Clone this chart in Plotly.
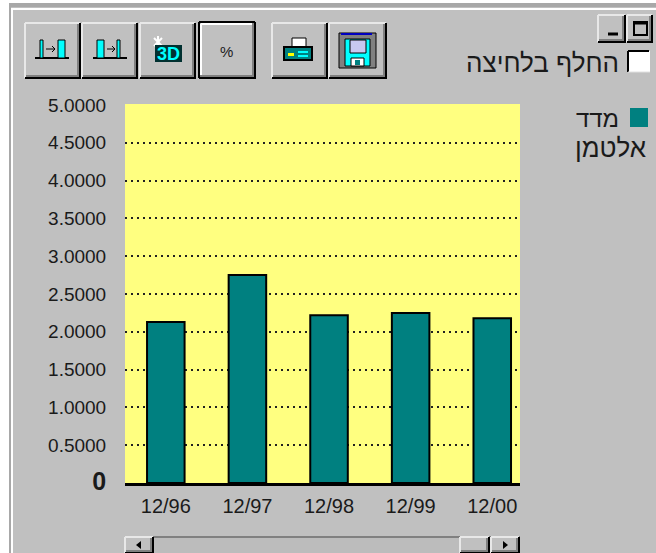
import plotly.graph_objects as go

categories = ["12/96", "12/97", "12/98", "12/99", "12/00"]
values = [2.13, 2.75, 2.22, 2.25, 2.18]
y_ticks = [0, 0.5, 1, 1.5, 2, 2.5, 3, 3.5, 4, 4.5, 5]
y_labels = ["<b style='font-size:25px'>0</b>", "0.5000", "1.0000", "1.5000", "2.0000", "2.5000", "3.0000", "3.5000", "4.0000", "4.5000", "5.0000"]
series_name = "מדד אלטמן"

W, H = 656, 553
GRAY, DARK, TEAL, CYAN = "#c0c0c0", "#808080", "#008080", "#00ffff"
TXT = "#1a1a1a"
FONT = "Liberation Sans"
shapes, notes = [], []


def X(v):
    return v / W


def Y(v):
    return 1 - v / H


def rect(x0, y0, x1, y1, fill, line=None, lw=1):
    shapes.append(dict(type="rect", xref="paper", yref="paper", x0=X(x0), x1=X(x1), y0=Y(y0), y1=Y(y1),
                       fillcolor=fill, line=dict(width=lw if line else 0, color=line or fill)))


def seg(x0, y0, x1, y1, color="black", lw=1):
    shapes.append(dict(type="line", xref="paper", yref="paper", x0=X(x0), x1=X(x1), y0=Y(y0), y1=Y(y1),
                       line=dict(color=color, width=lw)))


def tri(pts, color="black"):
    path = "M " + " L ".join(f"{X(a):.5f},{Y(b):.5f}" for a, b in pts) + " Z"
    shapes.append(dict(type="path", xref="paper", yref="paper", path=path, fillcolor=color, line=dict(width=0)))


def text(x, y, s, size=20, anchor="right", color=TXT, font=FONT):
    notes.append(dict(xref="paper", yref="paper", x=X(x), y=Y(y), text=s, showarrow=False, xanchor=anchor,
                      yanchor="middle", font=dict(family=font, size=size, color=color)))


def button(x0, y0, x1, y1, pressed=False):
    rect(x0, y0, x1, y1, GRAY)
    if pressed:
        seg(x0, y0, x1, y0, "black", 2)
        seg(x0, y0, x0, y1, "black", 2)
        seg(x0 + 2, y0 + 2, x1 - 1, y0 + 2, "white", 2)
        seg(x0 + 2, y0 + 2, x0 + 2, y1 - 2, "white", 2)
    else:
        seg(x0, y0, x1, y0, "#e8e8e8", 2)
        seg(x0, y0, x0, y1, "#e8e8e8", 2)
    seg(x0 + 1, y1 - 2, x1 - 1, y1 - 2, DARK, 2)
    seg(x1 - 2, y0 + 1, x1 - 2, y1 - 1, DARK, 2)
    seg(x0, y1, x1 + 1, y1, "black", 2)
    seg(x1, y0, x1, y1, "black", 2)


# window frame
rect(0, 0, W, 3, "white")
rect(0, 0, 9, H, "white")
rect(9, 3, W, 7, "#a8a8a8")
rect(9, 3, 11, H, "#a8a8a8")
seg(11, 9, W, 9, "white", 2)
seg(12, 9, 12, H, "white", 2)

# toolbar
for b in [(25, 23, 80, 78), (82, 23, 137, 78), (140, 23, 195, 78), (272, 23, 327, 78), (329, 23, 386, 78)]:
    button(*b)
button(199, 22, 255, 78, pressed=True)

# column-move icons
seg(35, 58, 69, 58, "black", 2)
rect(40, 40, 43, 58, CYAN, "black")
rect(58, 40, 65, 58, CYAN, "black")
seg(46, 49, 55, 49, "black", 1)
seg(52, 46, 55, 49, "black", 1)
seg(52, 52, 55, 49, "black", 1)
seg(93, 58, 127, 58, "black", 2)
rect(97, 40, 104, 58, CYAN, "black")
rect(117, 40, 120, 58, CYAN, "black")
seg(107, 49, 115, 49, "black", 1)
seg(112, 46, 115, 49, "black", 1)
seg(112, 52, 115, 49, "black", 1)

# sparkle above the 3D label
seg(154, 38, 162, 46, "white", 2)
seg(162, 38, 154, 46, "white", 2)
seg(158, 36, 158, 48, "white", 2)
# 3D and percent labels
rect(155, 45, 182, 62, "#003030")
text(168, 54, "<b>3D</b>", 18, "center", CYAN)
text(227, 51, "%", 15, "center", "#202020")

# printer icon
rect(292, 38, 306, 48, "white", "black")
rect(284, 47, 312, 60, TEAL, "black", 2)
rect(288, 53, 294, 56, "#ffff00")
seg(298, 52, 308, 52, CYAN, 2)
seg(298, 56, 308, 56, CYAN, 2)

# floppy icon
rect(339, 33, 376, 68, DARK, "black")
rect(341, 33, 372, 35, "#0000c0")
rect(345, 39, 370, 66, CYAN, "black")
rect(350, 40, 366, 53, "#c8c8f0", "black")
rect(351, 58, 364, 66, "white", "black")
rect(355, 60, 360, 65, TEAL)

# window buttons
button(598, 15, 625, 42)
seg(608, 34, 618, 34, "black", 3)
button(627, 15, 652, 42)
rect(634, 22, 647, 35, GRAY, "black", 2)
seg(634, 23, 647, 23, "black", 3)

# checkbox and legend
rect(628, 51, 650, 72, "white")
seg(628, 51, 649, 51, "black", 2)
seg(628, 51, 628, 72, "black", 2)
seg(628, 72, 650, 72, "#e0e0e0", 1)
text(621, 63, "החלף בלחיצה", 26)
rect(630, 108, 648, 127, TEAL)
name_first, name_second = series_name.split(" ")
text(621, 118, name_first, 24)
text(648, 148, name_second, 26)

# scrollbar
rect(125, 536, 520, H, "#bcbcbc")
seg(125, 537, 520, 537, DARK, 2)
button(125, 537, 153, 553)
button(460, 537, 489, 553)
button(491, 537, 519, 553)
tri([(141, 541), (141, 549), (136, 545)])
tri([(503, 541), (503, 549), (508, 545)])

# hide the top gridline, the reference has none
seg(125, 105, 520, 105, "#ffff80", 2)

fig = go.Figure()
fig.add_trace(go.Bar(
    x=list(range(len(categories))), y=values, width=0.46,
    marker=dict(color=TEAL, line=dict(color="black", width=2)),
))
fig.update_layout(
    width=W, height=H, autosize=False, showlegend=False,
    margin=dict(l=0, r=0, t=0, b=0, pad=0, autoexpand=False),
    paper_bgcolor=GRAY, plot_bgcolor="#ffff80",
    font=dict(family=FONT, size=18, color=TXT),
    shapes=shapes, annotations=notes,
    xaxis=dict(domain=[125 / W, 520 / W], range=[-0.5, 4.34], tickmode="array",
               tickvals=list(range(len(categories))), ticktext=categories, showgrid=False,
               showline=True, linecolor="black", linewidth=3, ticks="outside", ticklen=3,
               tickcolor=GRAY, zeroline=False, tickfont=dict(size=20)),
    yaxis=dict(domain=[1 - 483 / H, 1 - 105 / H], range=[0, 5], tickmode="array", tickvals=y_ticks,
               ticktext=y_labels, showgrid=True, gridcolor="#202020", griddash="1.5px,4.5px", gridwidth=1.5,
               zeroline=False, showline=False, ticks="outside", ticklen=14, tickcolor=GRAY,
               tickfont=dict(size=19)),
)
fig.write_html("out.html", config=dict(displayModeBar=False), post_script="document.body.style.margin='0';")
